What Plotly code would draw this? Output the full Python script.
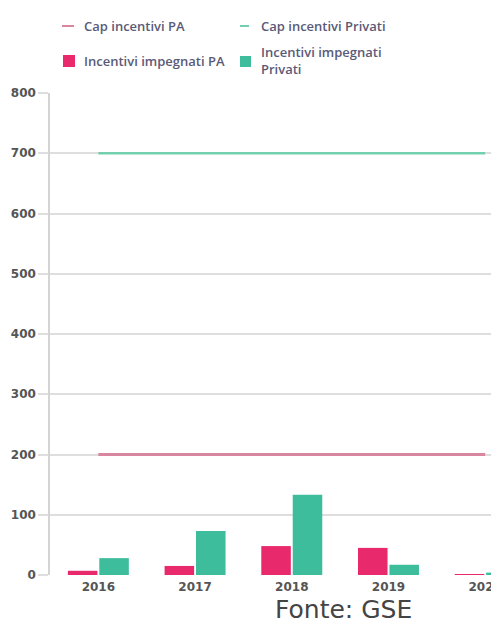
import plotly.graph_objects as go

# Incentive data (million euro)
years = ["2016", "2017", "2018", "2019", "2020"]
impegnati_pa = [7, 15, 48, 45, 1]
impegnati_privati = [28, 73, 133, 17, 4]
cap_pa = [200, 200, 200, 200, 200]
cap_privati = [700, 700, 700, 700, 700]
y_ticks = [0, 100, 200, 300, 400, 500, 600, 700, 800]

PINK_BAR = "#e8296b"
TEAL_BAR = "#3dbd9c"
PINK_LINE = "#d9869f"
TEAL_LINE = "#74cfae"
GRID = "#dedede"
LEGEND_TXT = "#5a5a78"

W, H = 491, 631
ML, MR, MT, MB = 50, 0, 93, 56
PW, PH = W - ML - MR, H - MT - MB


def px_x(x):
    return (x - ML) / PW


def px_y(y):
    return (H - MB - y) / PH


fig = go.Figure()

fig.add_trace(go.Bar(x=years, y=impegnati_pa, name="Incentivi impegnati PA",
                     marker=dict(color=PINK_BAR, line=dict(width=0)), showlegend=False))
fig.add_trace(go.Bar(x=years, y=impegnati_privati, name="Incentivi impegnati Privati",
                     marker=dict(color=TEAL_BAR, line=dict(width=0)), showlegend=False))
fig.add_trace(go.Scatter(x=years, y=cap_pa, name="Cap incentivi PA", mode="lines",
                         line=dict(color=PINK_LINE, width=3), showlegend=False))
fig.add_trace(go.Scatter(x=years, y=cap_privati, name="Cap incentivi Privati", mode="lines",
                         line=dict(color=TEAL_LINE, width=2.5), showlegend=False))

# Legend drawn as a 2x2 block above the plot
shapes = [
    dict(type="line", xref="paper", yref="paper", x0=px_x(62), x1=px_x(74),
         y0=px_y(26), y1=px_y(26), line=dict(color=PINK_LINE, width=2)),
    dict(type="line", xref="paper", yref="paper", x0=px_x(240), x1=px_x(249),
         y0=px_y(26), y1=px_y(26), line=dict(color=TEAL_LINE, width=2)),
    dict(type="rect", xref="paper", yref="paper", x0=px_x(63), x1=px_x(75),
         y0=px_y(67), y1=px_y(55), fillcolor=PINK_BAR, line=dict(width=0)),
    dict(type="rect", xref="paper", yref="paper", x0=px_x(240), x1=px_x(251),
         y0=px_y(67), y1=px_y(56), fillcolor=TEAL_BAR, line=dict(width=0)),
]

legend_font = dict(family="Open Sans", size=13, color=LEGEND_TXT, weight=600)
annotations = [
    dict(text="Cap incentivi PA", x=px_x(82), y=px_y(26)),
    dict(text="Cap incentivi Privati", x=px_x(259), y=px_y(26)),
    dict(text="Incentivi impegnati PA", x=px_x(82), y=px_y(61)),
    dict(text="Incentivi impegnati<br>Privati", x=px_x(259), y=px_y(60)),
]
for a in annotations:
    a.update(xref="paper", yref="paper", xanchor="left", yanchor="middle",
             showarrow=False, align="left", font=legend_font)

annotations.append(dict(text="Fonte: GSE", xref="paper", yref="paper",
                        x=px_x(343), y=px_y(609), xanchor="center", yanchor="middle",
                        showarrow=False,
                        font=dict(family="DejaVu Sans", size=25, color="#444444")))

tick_font = dict(family="DejaVu Sans", size=12, color="#555555", weight="bold")

fig.update_layout(
    width=W, height=H,
    margin=dict(l=ML, r=MR, t=MT, b=MB, pad=0),
    paper_bgcolor="white", plot_bgcolor="white",
    barmode="group", bargap=0.35, bargroupgap=0.06,
    shapes=shapes, annotations=annotations,
    xaxis=dict(type="category", range=[-0.5, 4.06], showgrid=False,
               showline=False, zeroline=False, ticks="", automargin=False,
               ticklabelstandoff=3, tickfont=tick_font),
    yaxis=dict(range=[0, 800], tickvals=y_ticks, showgrid=True, gridcolor=GRID,
               gridwidth=1.5, zeroline=False, showline=True, linecolor="#d4d4d4",
               linewidth=1.5, ticks="outside", ticklen=10, tickcolor=GRID,
               tickwidth=1.5, automargin=False, tickfont=tick_font),
)

fig.write_html("out.html")
